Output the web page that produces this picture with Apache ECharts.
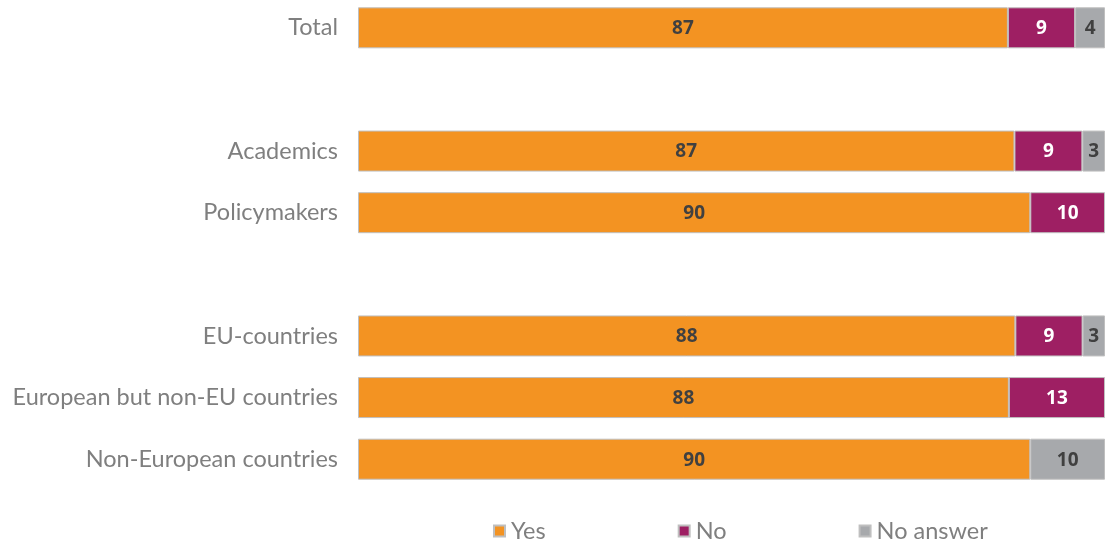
<!DOCTYPE html>
<html>
<head>
<meta charset="utf-8">
<script src="https://cdn.jsdelivr.net/npm/echarts@6/dist/echarts.min.js"></script>
<style>
  html, body { margin: 0; padding: 0; background: #ffffff; }
  #chart { width: 1105px; height: 542px; }
</style>
</head>
<body>
<div id="chart"></div>
<script>
// Row labels; empty strings leave a spacer row between groups
const categories = ['Total', '', 'Academics', 'Policymakers', '', 'EU-countries', 'European but non-EU countries', 'Non-European countries'];
const yesValues      = [87, null, 87, 90, null, 88, 88, 90];
const noValues       = [9,  null, 9,  10, null, 9,  13, null];
const noAnswerValues = [4,  null, 3,  null, null, 3, null, 10];

const seriesNames = ['Yes', 'No', 'No answer'];
const colors = ['#F39322', '#9E1F63', '#A7A9AC'];
const labelColors = ['#404040', '#ffffff', '#404040'];

// Each row is shown as a share of its own total (100% stacked)
const rowTotals = categories.map((_, i) =>
  [yesValues, noValues, noAnswerValues].reduce((s, arr) => s + (arr[i] || 0), 0));

function toShares(arr) {
  return arr.map((v, i) => v == null ? null : { value: v / rowTotals[i] * 100, raw: v });
}

const rawSeries = [yesValues, noValues, noAnswerValues];

const chart = echarts.init(document.getElementById('chart'), null, { renderer: 'canvas' });

chart.setOption({
  animation: false,
  grid: { left: 358, right: 0, top: -3, bottom: 52, containLabel: false, outerBoundsMode: 'none' },
  xAxis: {
    type: 'value', min: 0, max: 100,
    show: false
  },
  yAxis: {
    type: 'category',
    data: categories,
    inverse: true,
    axisLine: { show: false },
    axisTick: { show: false },
    axisLabel: {
      color: '#7F7F7F',
      fontFamily: 'Lato',
      fontSize: 23.5,
      margin: 20
    }
  },
  legend: {
    top: 514,
    left: 488,
    itemWidth: 11,
    itemHeight: 11,
    itemGap: 132,
    icon: 'rect',
    textStyle: { color: '#7F7F7F', fontFamily: 'Lato', fontSize: 23.5, padding: [0, 0, 0, 1] },
    data: seriesNames
  },
  series: rawSeries.map((arr, k) => ({
    name: seriesNames[k],
    type: 'bar',
    stack: 'total',
    barWidth: 41,
    data: toShares(arr),
    itemStyle: { color: colors[k], borderColor: '#BFBFBF', borderWidth: 1 },
    label: {
      show: true,
      position: 'inside',
      offset: [0, 1],
      color: labelColors[k],
      fontFamily: 'Open Sans',
      fontWeight: 'bold',
      fontSize: 19,
      formatter: p => p.data && p.data.raw != null ? String(p.data.raw) : ''
    }
  }))
});
</script>
</body>
</html>
